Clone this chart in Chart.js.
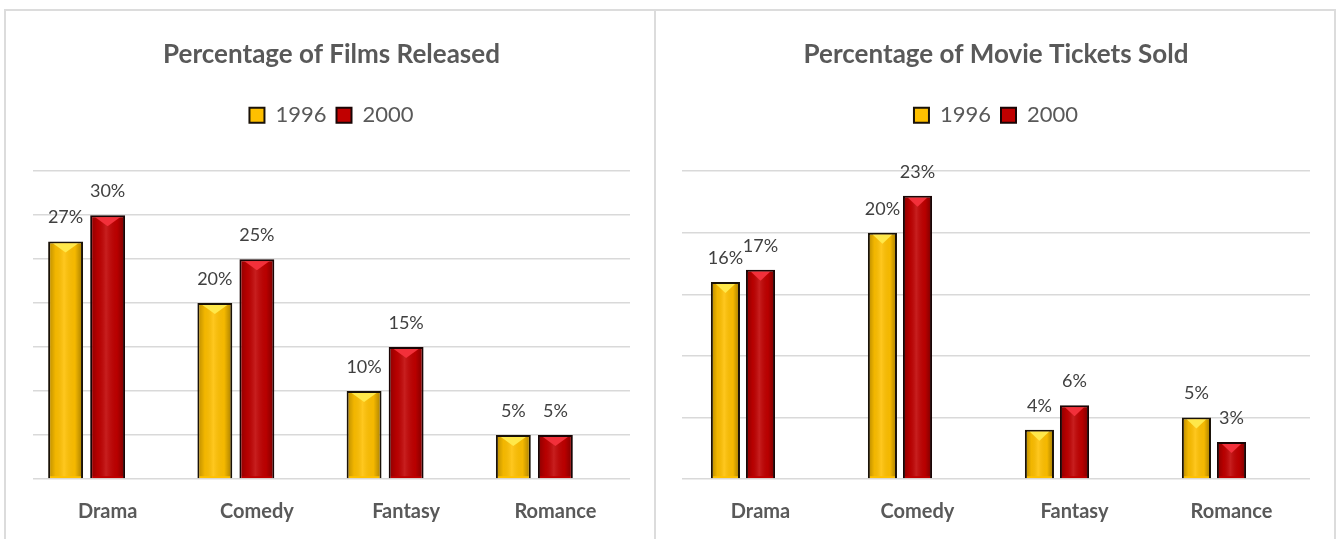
<!DOCTYPE html>
<html>
<head>
<meta charset="utf-8">
<script src="https://cdn.jsdelivr.net/npm/chart.js@4.4.0/dist/chart.umd.min.js"></script>
<style>
  html, body { margin: 0; padding: 0; background: #ffffff; }
  body { width: 1338px; height: 539px; position: relative; overflow: hidden; }
  .panel {
    position: absolute;
    top: 9px;
    height: 540px;
    border-top: 2px solid #dcdcdc;
    box-sizing: border-box;
  }
  #films-panel { left: 4px; width: 652px; border-left: 2px solid #dcdcdc; border-right: 2px solid #dcdcdc; }
  #tickets-panel { left: 656px; width: 680px; border-right: 2px solid #dcdcdc; }
  .panel canvas { display: block; }
</style>
</head>
<body>
<div class="panel" id="films-panel"><canvas id="films-chart"></canvas></div>
<div class="panel" id="tickets-panel"><canvas id="tickets-chart"></canvas></div>
<script>
// --- DATA ---
const genres = ["Drama", "Comedy", "Fantasy", "Romance"];
const years = ["1996", "2000"];
const films1996 = [27, 20, 10, 5];
const films2000 = [30, 25, 15, 5];
const tickets1996 = [16, 20, 4, 5];
const tickets2000 = [17, 23, 6, 3];
const filmsMax = 35;
const ticketsMax = 25;
const tickStep = 5;

// --- STYLE ---
const GOLD = "#FFC000";
const GOLD_LIGHT = "#FFE84A";
const RED = "#C00000";
const RED_LIGHT = "#F2303A";
const TEXT_GREY = "#595959";
const GRID_GREY = "#d9d9d9";
const FONT = "Lato, 'Open Sans', sans-serif";

// value labels above the bars ("27%")
const valueLabels = {
  id: "valueLabels",
  afterDatasetsDraw(chart) {
    const ctx = chart.ctx;
    ctx.save();
    ctx.font = `18px ${FONT}`;
    ctx.fillStyle = "#404040";
    ctx.textAlign = "center";
    ctx.textBaseline = "middle";
    chart.data.datasets.forEach((ds, i) => {
      if (ds.spacer) return;
      const meta = chart.getDatasetMeta(i);
      meta.data.forEach((bar, j) => {
        const v = ds.data[j];
        if (v == null) return;
        ctx.fillText(v + "%", bar.x, bar.y - 24);
      });
    });
    ctx.restore();
  },
};

// simple bevel: darker edges + light chevron at the top of every bar
const bevel = {
  id: "bevel",
  afterDatasetsDraw(chart) {
    const ctx = chart.ctx;
    chart.data.datasets.forEach((ds, i) => {
      if (ds.spacer) return;
      const meta = chart.getDatasetMeta(i);
      meta.data.forEach((bar) => {
        const { x, y, base, width } = bar.getProps(["x", "y", "base", "width"], true);
        const b = 2;
        const left = x - width / 2 + b;
        const right = x + width / 2 - b;
        const top = y + b;
        const bottom = base - b;
        if (bottom - top < 4) return;
        ctx.save();
        const g = ctx.createLinearGradient(left, 0, right, 0);
        g.addColorStop(0, "rgba(0,0,0,0.22)");
        g.addColorStop(0.18, "rgba(0,0,0,0.05)");
        g.addColorStop(0.45, "rgba(255,255,255,0.12)");
        g.addColorStop(0.8, "rgba(0,0,0,0.04)");
        g.addColorStop(1, "rgba(0,0,0,0.28)");
        ctx.fillStyle = g;
        ctx.fillRect(left, top, right - left, bottom - top);
        ctx.beginPath();
        ctx.moveTo(left + 3, top);
        ctx.lineTo(right - 3, top);
        ctx.lineTo(x, top + 9);
        ctx.closePath();
        ctx.fillStyle = ds.lightColor;
        ctx.fill();
        ctx.restore();
      });
    });
  },
};

// extra room between the legend and the plot
const legendGap = {
  id: "legendGap",
  beforeInit(chart) {
    const fit = chart.legend.fit;
    chart.legend.fit = function () {
      fit.bind(chart.legend)();
      this.height += chart.options.plugins.legendGap.gap;
    };
  },
};

function buildChart(canvasId, title, values1996, values2000, yMax, catPct, barPct, padLeft, padRight) {
  const canvas = document.getElementById(canvasId);
  return new Chart(canvas, {
    type: "bar",
    data: {
      labels: genres,
      datasets: [
        {
          label: years[0],
          data: values1996,
          backgroundColor: GOLD,
          lightColor: GOLD_LIGHT,
          borderColor: "#1a1208",
          borderWidth: 2,
        },
        {
          label: years[1],
          data: values2000,
          backgroundColor: RED,
          lightColor: RED_LIGHT,
          borderColor: "#1a0505",
          borderWidth: 2,
        },
        // empty third slot: pushes the pair left the way the original does
        { label: "", data: genres.map(() => null), spacer: true },
      ],
    },
    options: {
      responsive: true,
      maintainAspectRatio: false,
      animation: false,
      categoryPercentage: catPct,
      barPercentage: barPct,
      layout: { padding: { left: padLeft, right: padRight, top: 0, bottom: 12 } },
      scales: {
        x: {
          grid: { display: false },
          border: { display: false },
          ticks: {
            color: TEXT_GREY,
            padding: 13,
            font: { family: FONT, size: 20, weight: "bold" },
          },
        },
        y: {
          min: 0,
          max: yMax,
          ticks: { display: false, stepSize: tickStep },
          border: { display: false },
          grid: { color: GRID_GREY, lineWidth: 1.5, drawTicks: false },
        },
      },
      plugins: {
        title: {
          display: true,
          text: title,
          color: TEXT_GREY,
          font: { family: FONT, size: 26, weight: "bold" },
          padding: { top: 28, bottom: 24 },
        },
        legend: {
          display: true,
          labels: {
            color: TEXT_GREY,
            font: { family: FONT, size: 22 },
            boxWidth: 15,
            boxHeight: 15,
            padding: 10,
            filter: (item) => item.datasetIndex < 2,
          },
        },
        legendGap: { gap: 35 },
        tooltip: { enabled: false },
      },
    },
    plugins: [legendGap, bevel, valueLabels],
  });
}

document.addEventListener("DOMContentLoaded", () => {
  buildChart("films-chart", "Percentage of Films Released", films1996, films2000, filmsMax, 0.845, 0.83, 27, 24);
  buildChart("tickets-chart", "Percentage of Movie Tickets Sold", tickets1996, tickets2000, ticketsMax, 0.67, 0.83, 26, 24);
});
</script>
</body>
</html>
